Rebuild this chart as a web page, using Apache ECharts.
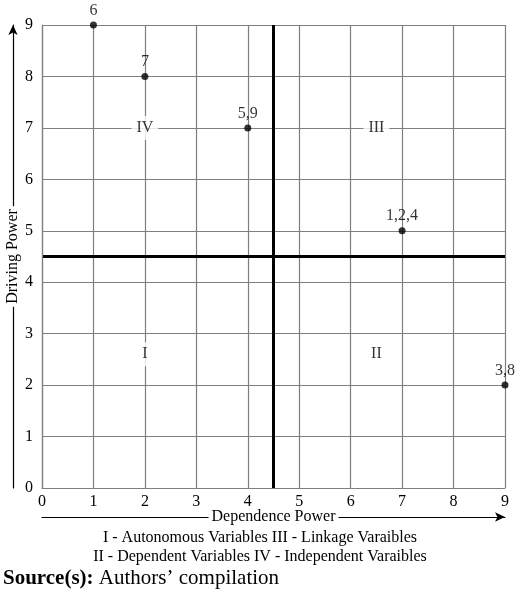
<!DOCTYPE html>
<html><head><meta charset="utf-8">
<script src="https://cdn.jsdelivr.net/npm/echarts@6/dist/echarts.min.js"></script>
<style>html,body{margin:0;padding:0;background:#fff}#c{width:520px;height:596px}</style>
</head><body><div id="c"></div>
<script>
const pointX = [1, 2, 4, 7, 9];
const pointY = [9, 8, 7, 5, 2];
const pointLabels = ['6', '7', '5,9', '1,2,4', '3,8'];
const quadX = [2, 6.5, 6.5, 2];
const quadY = [2.6, 2.6, 7, 7];
const quadLabels = ['I', 'II', 'III', 'IV'];
const dividerX = 4.5;
const dividerY = 4.5;
const xTitle = 'Dependence Power';
const yTitle = 'Driving Power';
const legendLines = ['I - Autonomous Variables III - Linkage Varaibles', 'II - Dependent Variables IV - Independent Varaibles'];
const sourceBold = 'Source(s):';
const sourceText = ' Authors\u2019 compilation';

const F = 'Liberation Serif';
const chart = echarts.init(document.getElementById('c'));
const gray = '#7f7f7f';
const nameStyle = { fontFamily: F, fontSize: 16, color: '#000', backgroundColor: '#fff', padding: [1, 3] };
chart.setOption({
  animation: false,
  backgroundColor: '#fff',
  grid: { left: 42, right: 15, top: 25, bottom: 108, containLabel: false, outerBoundsMode: 'none' },
  xAxis: [{
    type: 'value', min: 0, max: 9, interval: 1, z: 5,
    axisLine: { show: true, onZero: false, lineStyle: { color: gray, width: 1.2 } },
    axisTick: { show: false },
    splitLine: { show: true, lineStyle: { color: gray, width: 1.2 } },
    axisLabel: { color: '#000', fontFamily: F, fontSize: 16, margin: 6 },
    name: xTitle, nameLocation: 'middle', nameGap: 20, nameMoveOverlap: false, nameTextStyle: nameStyle
  }, {
    type: 'value', min: 0, max: 9, position: 'bottom', offset: 29, z: 1,
    axisLine: { show: true, onZero: false, symbol: ['none', 'arrow'], symbolSize: [7, 10], lineStyle: { color: '#000', width: 1.2 } },
    axisTick: { show: false }, axisLabel: { show: false }, splitLine: { show: false }
  }],
  yAxis: [{
    type: 'value', min: 0, max: 9, interval: 1, z: 5,
    axisLine: { show: true, onZero: false, lineStyle: { color: gray, width: 1.2 } },
    axisTick: { show: false },
    splitLine: { show: true, lineStyle: { color: gray, width: 1.2 } },
    axisLabel: { color: '#000', fontFamily: F, fontSize: 16, margin: 9 },
    name: yTitle, nameLocation: 'middle', nameGap: 20, nameMoveOverlap: false, nameRotate: 90, nameTextStyle: nameStyle
  }, {
    type: 'value', min: 0, max: 9, position: 'left', offset: 29, z: 1,
    axisLine: { show: true, onZero: false, symbol: ['none', 'arrow'], symbolSize: [7, 10], lineStyle: { color: '#000', width: 1.2 } },
    axisTick: { show: false }, axisLabel: { show: false }, splitLine: { show: false }
  }],
  series: [{
    type: 'scatter', z: 10,
    data: quadX.map((x, i) => ({ value: [x, quadY[i]], name: quadLabels[i] })),
    symbolSize: 0, silent: true,
    label: { show: true, position: 'inside', formatter: p => p.name, fontFamily: F, fontSize: 16, color: '#000', backgroundColor: '#fff', padding: [4, 5] },
    markLine: {
      silent: true, symbol: 'none', label: { show: false },
      lineStyle: { color: '#000', width: 3, type: 'solid' },
      data: [{ xAxis: dividerX }, { yAxis: dividerY }]
    }
  }, {
    type: 'scatter', z: 11, clip: false,
    data: pointX.map((x, i) => ({ value: [x, pointY[i]], name: pointLabels[i] })),
    symbolSize: 7, itemStyle: { color: '#000' },
    label: { show: true, position: 'top', distance: 3, formatter: p => p.name, fontFamily: F, fontSize: 16, color: '#000' }
  }],
  graphic: [
    { type: 'text', left: 'center', top: 528, style: { text: legendLines.join('\n'), font: '16px "Liberation Serif"', fill: '#000', textAlign: 'center', lineHeight: 19 } },
    { type: 'text', left: 3, top: 568, style: { text: '{b|' + sourceBold + '}{n|' + sourceText + '}', rich: { b: { fontFamily: F, fontSize: 21, fontWeight: 'bold', fill: '#000' }, n: { fontFamily: F, fontSize: 21, fill: '#000' } } } }
  ]
});
</script></body></html>
